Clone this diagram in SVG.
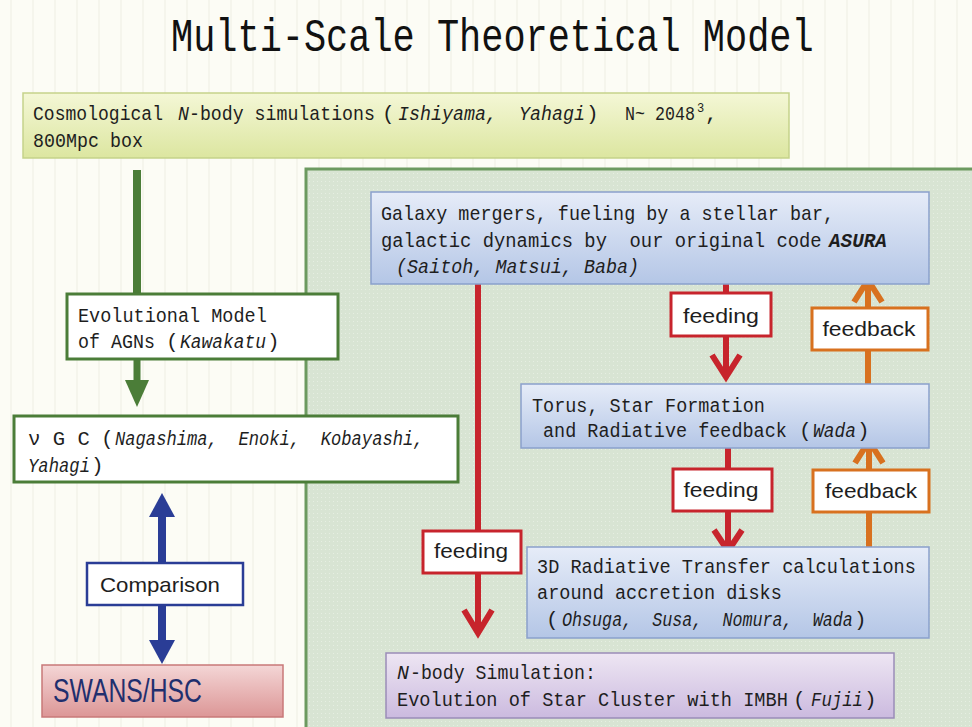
<svg xmlns="http://www.w3.org/2000/svg" width="972" height="727" viewBox="0 0 972 727">
<defs>
<style>
.m{font-family:"Liberation Mono","Noto Sans CJK JP",monospace;font-size:21px;fill:#1e1e1e;white-space:pre}
.i{font-style:italic}
.s{font-family:"Liberation Sans","Noto Sans",sans-serif;font-size:21px;fill:#1e1e1e;text-anchor:middle}
.gbox{fill:#fff;stroke:#4b7d38;stroke-width:3}
.bbox{fill:url(#gBlue);stroke:#8aa0cc;stroke-width:1.5}
.rl{fill:#fff;stroke:#c7242c;stroke-width:3}
.ol{fill:#fff;stroke:#d8711f;stroke-width:3}
.red{stroke:#c7242c;stroke-width:6;fill:none}
.org{stroke:#d8711f;stroke-width:6;fill:none}
</style>
<linearGradient id="gYel" x1="0" y1="0" x2="0" y2="1"><stop offset="0" stop-color="#f4f7d6"/><stop offset="1" stop-color="#dce6a0"/></linearGradient>
<linearGradient id="gBlue" x1="0" y1="0" x2="0" y2="1"><stop offset="0" stop-color="#e6ecf8"/><stop offset="1" stop-color="#b4c6e6"/></linearGradient>
<linearGradient id="gPur" x1="0" y1="0" x2="0" y2="1"><stop offset="0" stop-color="#eee6f3"/><stop offset="1" stop-color="#cbbadf"/></linearGradient>
<linearGradient id="gPink" x1="0" y1="0" x2="0" y2="1"><stop offset="0" stop-color="#f4d6d6"/><stop offset="1" stop-color="#dc9696"/></linearGradient>
<pattern id="vl" width="22" height="10" patternUnits="userSpaceOnUse"><rect width="22" height="10" fill="#fcfcf5"/><line x1="11" y1="0" x2="11" y2="10" stroke="#efefe4" stroke-width="1"/></pattern>
<pattern id="dots" width="4" height="4" patternUnits="userSpaceOnUse"><rect width="4" height="4" fill="#d8e4d3"/><rect x="1" y="1" width="1" height="1" fill="#e6eee2"/></pattern>
</defs>
<rect width="972" height="727" fill="url(#vl)"/>
<text transform="translate(171,51) scale(0.803,1)" class="m" style="font-size:46px;fill:#111">Multi-Scale Theoretical Model</text>

<g id="panel"><rect x="306" y="169" width="700" height="600" fill="url(#dots)" stroke="#6c9a60" stroke-width="3"/></g>

<g id="connectors">
<line x1="137" y1="170" x2="137" y2="295" stroke="#4b7d38" stroke-width="8"/>
<line x1="137" y1="358" x2="137" y2="382" stroke="#4b7d38" stroke-width="7"/>
<polygon points="125,380 149,380 137,407" fill="#4b7d38"/>
<line x1="162" y1="515" x2="162" y2="642" stroke="#2a3d96" stroke-width="8"/>
<polygon points="149,517 175,517 162,493" fill="#2a3d96"/>
<polygon points="149,640 175,640 162,664" fill="#2a3d96"/>
<rect x="87" y="563" width="156" height="42" fill="#fff" stroke="#2a3d96" stroke-width="2.5"/>
<text x="160" y="592" class="s" textLength="120" lengthAdjust="spacingAndGlyphs">Comparison</text>

<line x1="478" y1="275" x2="478" y2="632" class="red"/>
<polyline points="464,610 478,633 492,610" class="red"/>
<rect x="423" y="531" width="98" height="42" class="rl"/>
<text x="471" y="558" class="s" textLength="74" lengthAdjust="spacingAndGlyphs">feeding</text>

<line x1="726" y1="284" x2="726" y2="376" class="red"/>
<polyline points="712,355 726,377 740,355" class="red"/>
<rect x="671" y="293" width="100" height="43" class="rl"/>
<text x="721" y="323" class="s" textLength="76" lengthAdjust="spacingAndGlyphs">feeding</text>

<line x1="728" y1="448" x2="728" y2="550" class="red"/>
<polyline points="714,530 728,551 742,530" class="red"/>
<rect x="673" y="469" width="99" height="42" class="rl"/>
<text x="721" y="497" class="s" textLength="75" lengthAdjust="spacingAndGlyphs">feeding</text>

<line x1="868" y1="384" x2="868" y2="280" class="org"/>
<polyline points="854,302 868,280 882,302" class="org"/>
<rect x="812" y="308" width="116" height="42" class="ol"/>
<text x="869" y="336" class="s" textLength="93" lengthAdjust="spacingAndGlyphs">feedback</text>

<line x1="869" y1="547" x2="869" y2="442" class="org"/>
<polyline points="855,463 869,441 883,463" class="org"/>
<rect x="813" y="470" width="116" height="42" class="ol"/>
<text x="871" y="498" class="s" textLength="92" lengthAdjust="spacingAndGlyphs">feedback</text>
</g>

<g id="cosmo">
<rect x="23" y="93" width="766" height="65" fill="url(#gYel)" stroke="#c5d28a" stroke-width="1.5"/>
<text transform="translate(33,120) scale(0.86,1)" class="m">Cosmological</text>
<text transform="translate(178,120) scale(0.873,1)" class="m i">N</text>
<text transform="translate(189,120) scale(0.868,1)" class="m">-body simulations</text>
<text x="382" y="120" class="m">(</text>
<text transform="translate(398,120) scale(0.873,1)" class="m i">Ishiyama,  Yahagi</text>
<text x="586" y="120" class="m">)</text>
<text transform="translate(625,120) scale(0.794,1)" class="m">N~ 2048</text>
<text x="697" y="112" class="m" style="font-size:12px">3</text>
<text x="705" y="120" class="m">,</text>
<text transform="translate(33,147) scale(0.873,1)" class="m">800Mpc box</text>
</g>

<g id="evo">
<rect x="67" y="294" width="271" height="65" class="gbox"/>
<text transform="translate(78,322) scale(0.882,1)" class="m">Evolutional Model</text>
<text transform="translate(78,348) scale(0.873,1)" class="m">of AGNs</text>
<text x="166" y="348" class="m">(</text>
<text transform="translate(180,348) scale(0.853,1)" class="m i">Kawakatu</text>
<text x="267" y="348" class="m">)</text>
</g>

<g id="vgc">
<rect x="14" y="416" width="444" height="66" class="gbox"/>
<text transform="translate(28,445) scale(0.98,1)" class="m">ν G C</text>
<text x="101" y="445" class="m">(</text>
<text transform="translate(115,445) scale(0.817,1)" class="m i">Nagashima,  Enoki,  Kobayashi,</text>
<text transform="translate(28,472) scale(0.82,1)" class="m i">Yahagi</text>
<text x="91" y="472" class="m">)</text>
</g>

<g id="swans">
<rect x="42" y="665" width="241" height="52" fill="url(#gPink)" stroke="#c87878" stroke-width="1.5"/>
<text x="53" y="702" style="font-family:'Liberation Sans','Noto Sans',sans-serif;font-size:33px;fill:#1f2f6e" textLength="149" lengthAdjust="spacingAndGlyphs">SWANS/HSC</text>
</g>

<g id="galaxy">
<rect x="371" y="192" width="558" height="92" class="bbox"/>
<text transform="translate(381,220) scale(0.877,1)" class="m">Galaxy mergers, fueling by a stellar bar,</text>
<text transform="translate(381,247) scale(0.897,1)" class="m">galactic dynamics by  our original code</text>
<text transform="translate(829,247) scale(0.92,1)" class="m i" font-weight="bold">ASURA</text>
<text transform="translate(396,273) scale(0.877,1)" class="m i">(Saitoh, Matsui, Baba)</text>
</g>

<g id="torus">
<rect x="521" y="384" width="408" height="64" class="bbox"/>
<text transform="translate(532,412) scale(0.881,1)" class="m">Torus, Star Formation</text>
<text transform="translate(543,437) scale(0.88,1)" class="m">and Radiative feedback</text>
<text x="799" y="437" class="m">(</text>
<text transform="translate(813,437) scale(0.853,1)" class="m i">Wada</text>
<text x="857" y="437" class="m">)</text>
</g>

<g id="rt3d">
<rect x="527" y="547" width="402" height="91" class="bbox"/>
<text transform="translate(537,573) scale(0.885,1)" class="m">3D Radiative Transfer calculations</text>
<text transform="translate(537,599) scale(0.884,1)" class="m">around accretion disks</text>
<text x="546" y="626" class="m">(</text>
<text transform="translate(562,626) scale(0.796,1)" class="m i">Ohsuga,  Susa,  Nomura,  Wada</text>
<text x="854" y="626" class="m">)</text>
</g>

<g id="nbody">
<rect x="386" y="653" width="508" height="65" fill="url(#gPur)" stroke="#9a8cb8" stroke-width="1.5"/>
<text transform="translate(397,679) scale(0.95,1)" class="m i">N</text>
<text transform="translate(410,679) scale(0.868,1)" class="m">-body Simulation:</text>
<text transform="translate(397,706) scale(0.887,1)" class="m">Evolution of Star Cluster with IMBH</text>
<text x="793" y="706" class="m">(</text>
<text transform="translate(811,706) scale(0.825,1)" class="m i">Fujii</text>
<text x="864" y="706" class="m">)</text>
</g>
</svg>
